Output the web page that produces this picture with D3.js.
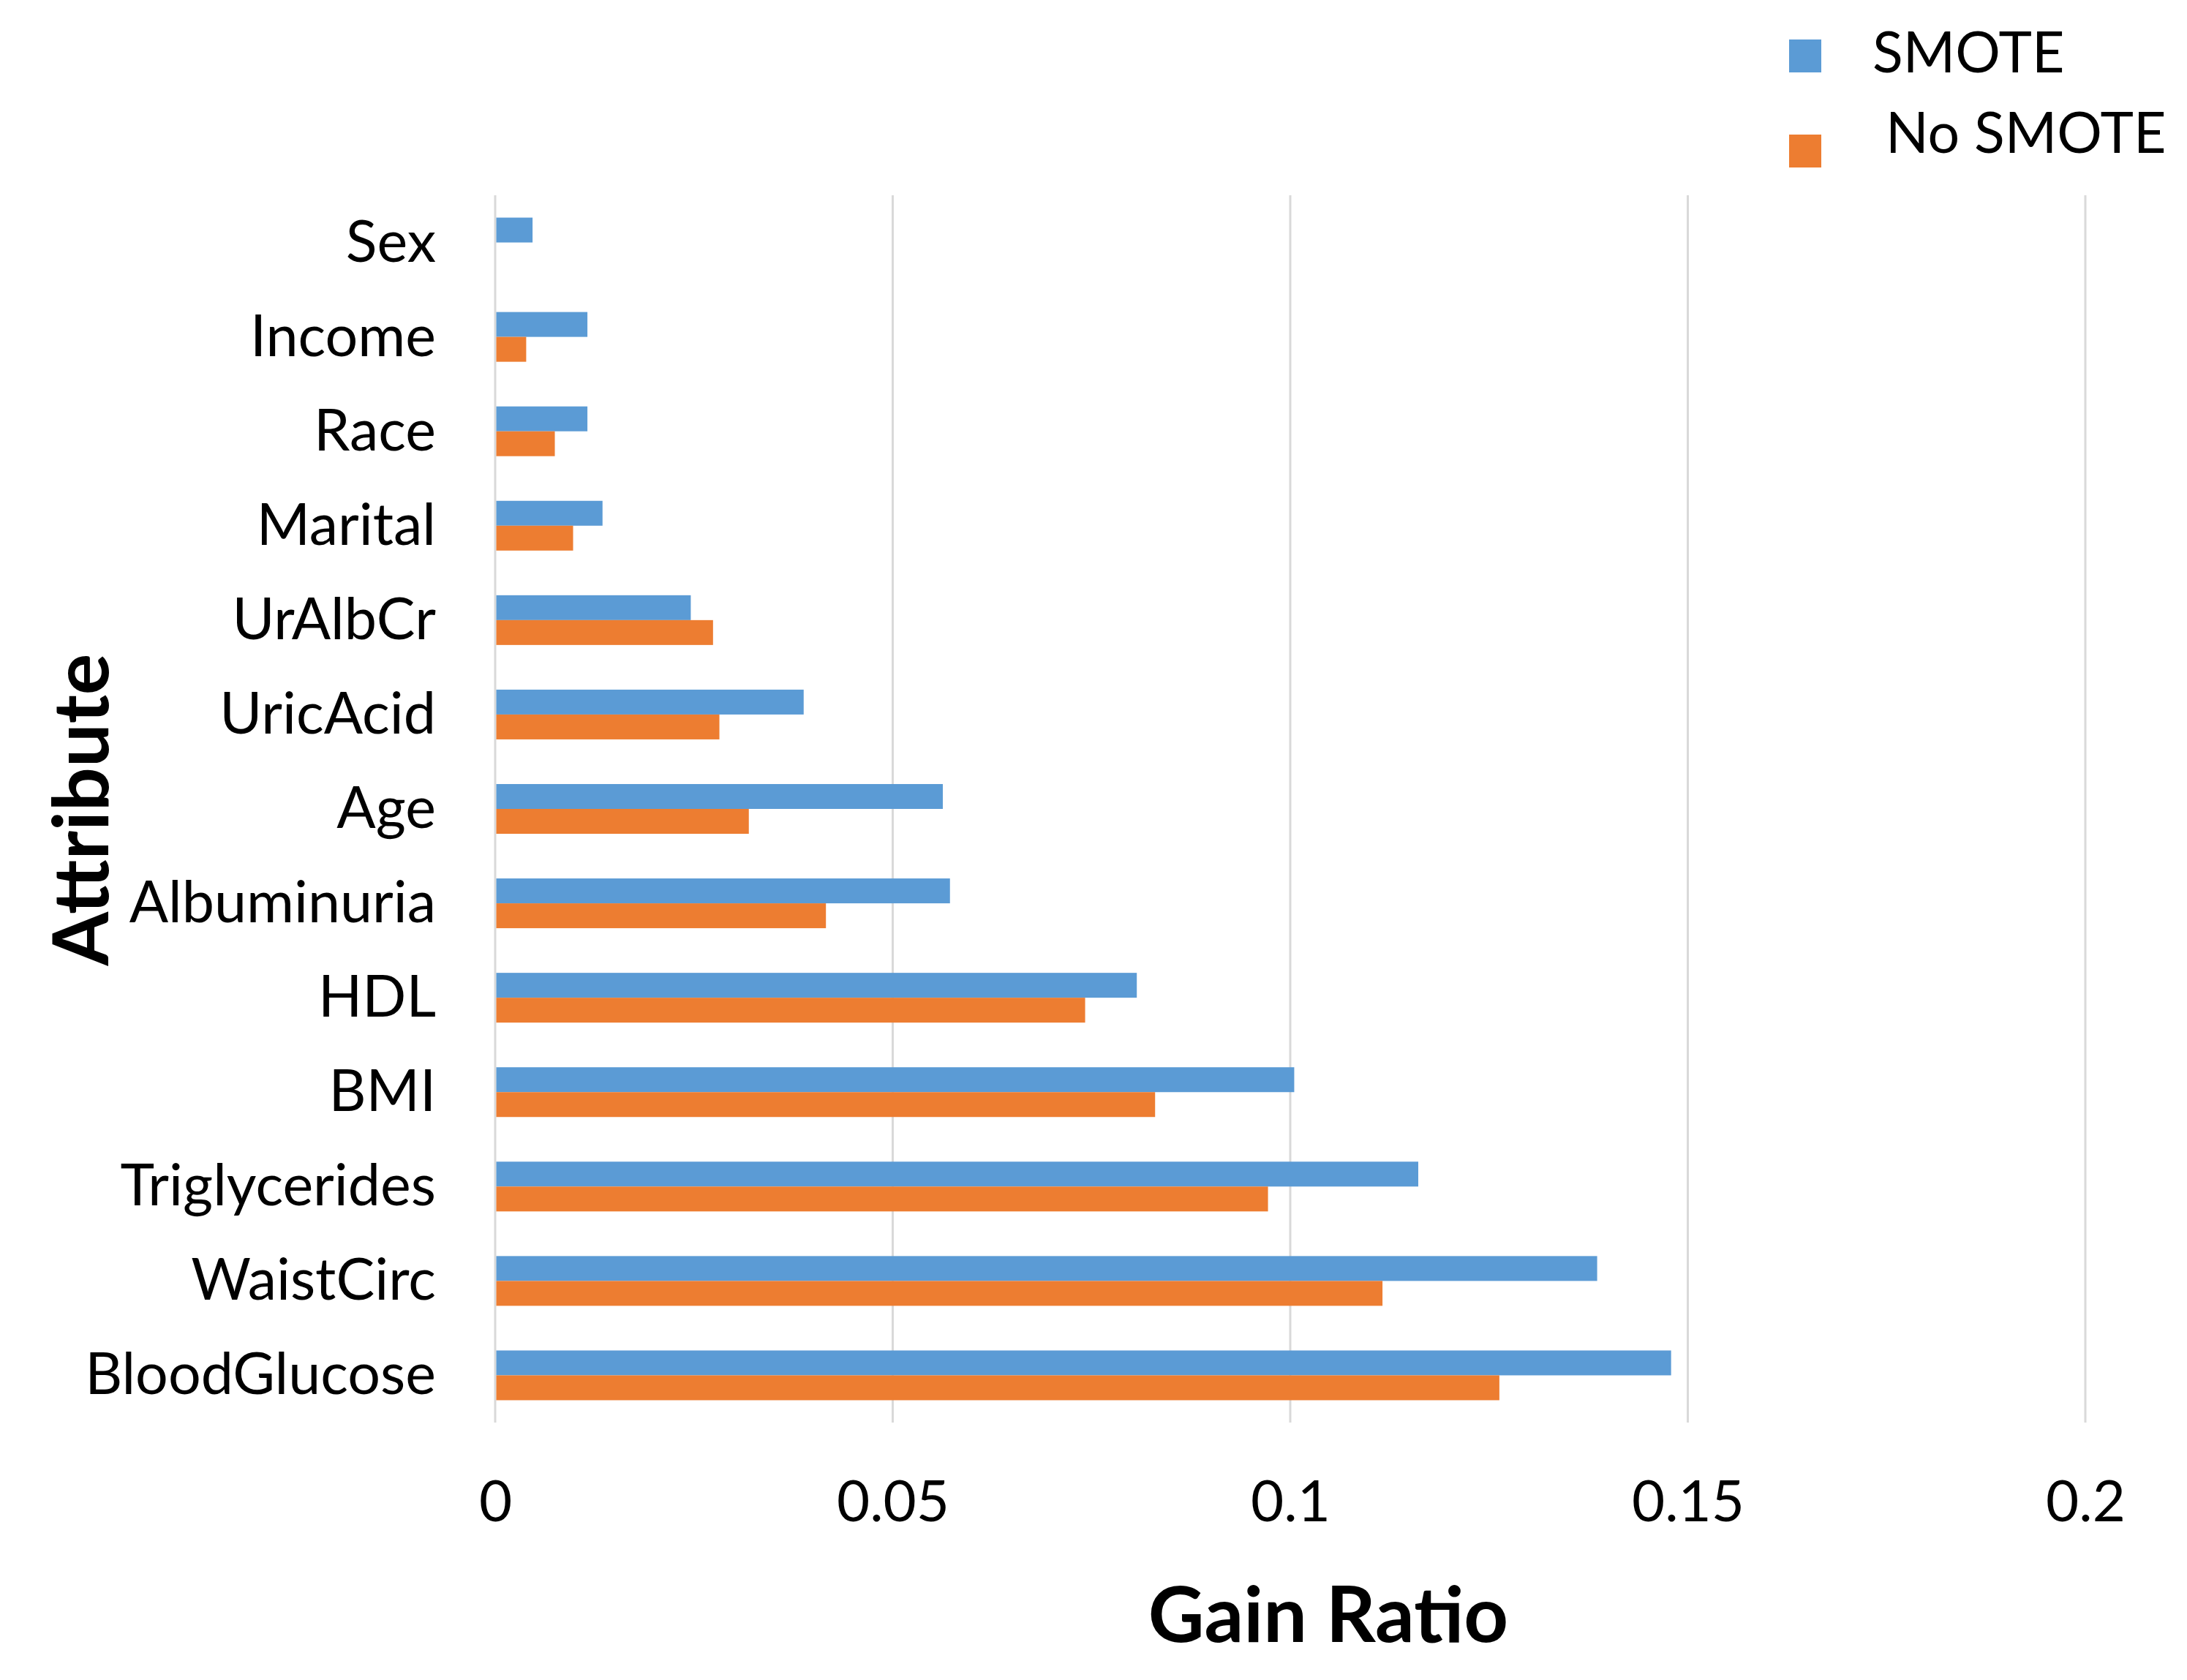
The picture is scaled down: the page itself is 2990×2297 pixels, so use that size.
<!DOCTYPE html>
<html>
<head>
<meta charset="utf-8">
<script src="https://cdn.jsdelivr.net/npm/d3@7"></script>
<style>
  html, body { margin: 0; padding: 0; background: #fff; }
  text { font-family: Lato, "Open Sans", sans-serif; }
</style>
</head>
<body>
<svg id="chart" width="2990" height="2297"></svg>
<script>
const categories = ["Sex","Income","Race","Marital","UrAlbCr","UricAcid","Age","Albuminuria","HDL","BMI","Triglycerides","WaistCirc","BloodGlucose"];
const smote   = [0.0047,0.0116,0.0116,0.0135,0.0246,0.0388,0.0563,0.0572,0.0807,0.1005,0.1161,0.1386,0.1479];
const noSmote = [0,0.0039,0.0075,0.0098,0.0274,0.0282,0.0319,0.0416,0.0742,0.0830,0.0972,0.1116,0.1263];
const seriesNames = ["SMOTE","No SMOTE"];
const seriesColors = ["#5B9BD5","#ED7D31"];
const xTicks = [0,0.05,0.1,0.15,0.2];
const xTickLabels = ["0","0.05","0.1","0.15","0.2"];

const svg = d3.select("#chart");
const x = d3.scaleLinear().domain([0,0.2]).range([677,2851]);
const y = d3.scaleBand().domain(categories).range([267,1945]).paddingInner(0.473).paddingOuter(0.2365);
const ySub = d3.scaleBand().domain(seriesNames).range([0,y.bandwidth()]);

// gridlines
svg.append("g").selectAll("line").data(xTicks).join("line")
  .attr("x1", d => x(d)).attr("x2", d => x(d))
  .attr("y1", 267).attr("y2", 1945)
  .attr("stroke", "#d9d9d9").attr("stroke-width", 3);

// bars
const rows = categories.map((c,i) => ({cat:c, vals:[smote[i], noSmote[i]]}));
const g = svg.append("g").selectAll("g").data(rows).join("g")
  .attr("transform", d => `translate(0,${y(d.cat)})`);
g.selectAll("rect").data(d => d.vals.map((v,j) => ({v, s:seriesNames[j], c:seriesColors[j]})))
  .join("rect")
  .attr("x", x(0) + 1.5)
  .attr("y", d => ySub(d.s))
  .attr("width", d => Math.max(0, x(d.v) - x(0) - 1.5))
  .attr("height", ySub.bandwidth())
  .attr("fill", d => d.c);

// y axis labels
const yAxis = d3.axisLeft(y).tickSize(0).tickPadding(0);
const ya = svg.append("g").attr("transform","translate(596,0)").call(yAxis);
ya.select(".domain").remove();
ya.selectAll("text").attr("font-size", 79).attr("fill","#000")
  .attr("font-family","Lato").attr("dy", null).attr("y", 26).attr("x", 0);

// x axis labels
const xAxis = d3.axisBottom(x).tickValues(xTicks).tickFormat((d,i) => xTickLabels[i]).tickSize(0).tickPadding(0);
const xa = svg.append("g").attr("transform","translate(0,2080)").call(xAxis);
xa.select(".domain").remove();
xa.selectAll("text").attr("font-size", 78).attr("fill","#000")
  .attr("font-family","Lato").attr("dy", null).attr("y", 0);

// axis titles
svg.append("text").attr("x", 1816).attr("y", 2245).attr("text-anchor","middle")
  .attr("font-size", 106).attr("font-weight","bold").attr("fill","#000").text("Gain Ratio");
svg.append("text").attr("transform","translate(148,1107) rotate(-90)").attr("text-anchor","middle")
  .attr("font-size", 106).attr("font-weight","bold").attr("fill","#000").text("Attribute");

// legend
const legendY = [54, 184];
const legendTextX = [2560, 2578];
const legendBase = [99, 209];
const lg = svg.append("g");
seriesNames.forEach((s,i) => {
  lg.append("rect").attr("x", 2446).attr("y", legendY[i]).attr("width", 44).attr("height", 45).attr("fill", seriesColors[i]);
  lg.append("text").attr("x", legendTextX[i]).attr("y", legendBase[i]).attr("font-size", 77).attr("fill","#000").text(s);
});
</script>
</body>
</html>
